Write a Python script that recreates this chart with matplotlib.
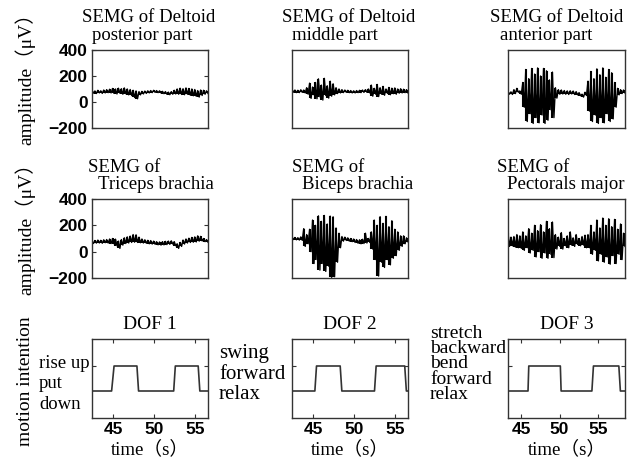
import numpy as np
import matplotlib
matplotlib.use("Agg")
import matplotlib.pyplot as plt

# SEMG traces: per-bin upper / lower extent of the signal (uV), 40 bins across the window
post_top = [88, 85, 90, 86, 92, 95, 98, 104, 100, 106, 102, 108, 100, 96, 90, 85, 80, 82, 84, 86,
            88, 90, 88, 86, 82, 80, 76, 80, 90, 100, 106, 102, 108, 104, 100, 96, 88, 92, 90, 86]
post_bot = [68, 65, 70, 66, 70, 72, 70, 66, 62, 68, 60, 64, 55, 50, 35, 25, 55, 62, 66, 70,
            72, 74, 72, 70, 64, 60, 56, 60, 62, 60, 58, 56, 60, 52, 48, 44, 38, 50, 60, 66]

mid_top = [95, 92, 90, 94, 92, 110, 145, 115, 150, 178, 130, 182, 125, 160, 140, 110, 100, 95, 92, 90,
           88, 86, 88, 90, 92, 95, 100, 130, 105, 135, 110, 120, 100, 112, 106, 108, 100, 102, 98, 95]
mid_bot = [75, 72, 72, 74, 70, 60, 28, 55, 25, 40, 15, 50, 30, 45, 55, 65, 70, 72, 74, 72,
           70, 70, 72, 72, 74, 75, 70, 45, 60, 42, 60, 52, 66, 56, 64, 60, 68, 70, 72, 70]

ant_top = [80, 78, 95, 105, 85, 150, 250, 180, 258, 215, 262, 200, 258, 240, 170, 230, 110, 95, 92, 88,
           85, 86, 84, 80, 72, 60, 75, 160, 235, 180, 255, 210, 262, 190, 250, 225, 150, 105, 95, 92]
ant_bot = [60, 58, 65, 75, 60, -40, -150, -90, -165, -120, -160, -100, -165, -140, -60, -120, 30, 60, 62, 60,
           58, 62, 58, 55, 48, 38, 50, -70, -150, -100, -165, -120, -160, -90, -150, -130, -40, 55, 65, 70]

tri_top = [82, 85, 88, 86, 90, 92, 96, 100, 95, 80, 92, 105, 112, 118, 130, 128, 110, 96, 90, 86,
           84, 80, 76, 74, 76, 78, 80, 82, 76, 60, 70, 88, 96, 102, 108, 112, 120, 116, 100, 92]
tri_bot = [62, 65, 66, 64, 68, 66, 62, 60, 45, 25, 50, 62, 66, 70, 72, 70, 68, 66, 64, 60,
           58, 56, 52, 50, 52, 54, 56, 58, 45, 25, 40, 58, 66, 70, 72, 74, 80, 82, 76, 72]

bic_top = [110, 108, 106, 112, 175, 130, 170, 240, 200, 272, 230, 275, 210, 270, 265, 180, 140, 115, 110, 105,
           100, 96, 92, 90, 94, 140, 100, 150, 240, 200, 266, 215, 268, 190, 235, 170, 150, 120, 120, 105]
bic_bot = [92, 90, 88, 86, 40, 60, 0, -90, -60, -140, -90, -150, -110, -195, -190, -80, 30, 80, 85, 80,
           76, 70, 64, 60, 62, 66, 70, 20, -60, -185, -80, -120, -60, -100, -50, -30, 10, 40, 60, 75]

pec_top = [140, 110, 115, 130, 120, 150, 120, 175, 140, 200, 160, 205, 150, 230, 175, 225, 130, 110, 145, 100,
           120, 150, 105, 130, 100, 115, 125, 130, 200, 150, 240, 180, 255, 200, 250, 190, 245, 170, 210, 140]
pec_bot = [40, 45, 35, 30, 25, 10, 30, -10, 10, -40, 0, -50, -10, -50, -20, -45, 20, 40, 20, 45,
           30, 50, 40, 55, 45, 50, 30, 30, -20, 10, -70, -20, -80, -40, -95, -30, -90, -20, -60, 40]

semg_titles = [("SEMG of Deltoid", "posterior part"), ("SEMG of Deltoid", "middle part"),
               ("SEMG of Deltoid", "anterior part"), ("SEMG of", "Triceps brachia"),
               ("SEMG of", "Biceps brachia"), ("SEMG of", "Pectorals major")]

# motion intention (0 = rest level, 1 = active level), switching times in s
dof1_t = [42.4, 44.8, 45.1, 47.9, 48.1, 52.4, 52.6, 55.4, 55.6, 56.6]
dof2_t = [42.4, 45.2, 45.4, 48.3, 48.5, 52.5, 52.7, 56.2, 56.4, 56.6]
dof3_t = [43.3, 45.9, 46.0, 50.1, 50.2, 54.2, 54.4, 57.7, 57.9, 58.5]
dof_y = [0, 0, 1, 1, 0, 0, 1, 1, 0, 0]
xticks = [45, 50, 55]

W, H = 638, 461
SERIF = "Liberation Serif"
MIX = ["Liberation Serif", "Noto Sans CJK SC"]


def box(x0, y0, x1, y1):
    return [x0 / W, 1 - y1 / H, (x1 - x0) / W, (y1 - y0) / H]


def style_axes(ax):
    for s in ax.spines.values():
        s.set_color("#333333")
        s.set_linewidth(1.0)
    ax.tick_params(direction="in", length=3, color="#333333", width=0.8,
                   labelsize=12.5, pad=3)
    for lab in ax.get_xticklabels() + ax.get_yticklabels():
        lab.set_fontfamily("Liberation Sans")
        lab.set_fontweight("bold")


fig = plt.figure(figsize=(W / 100, H / 100), dpi=100)

cols = [(92, 208), (292, 408), (508, 625)]
rows = [(50, 128), (199, 278)]
traces = [(post_top, post_bot), (mid_top, mid_bot), (ant_top, ant_bot),
          (tri_top, tri_bot), (bic_top, bic_bot), (pec_top, pec_bot)]
title_dx = [(-10, 0), (-10, 0), (-18, -8), (-4, 6), (0, 10), (-11, -1)]

for k, (top, bot) in enumerate(traces):
    r, c = divmod(k, 3)
    x0, x1 = cols[c]
    y0, y1 = rows[r]
    ax = fig.add_axes(box(x0, y0, x1, y1))
    # each bin drawn as a vertical stroke, joined by the zigzagging trace
    vals = np.ravel(np.column_stack([top, bot]))
    t = np.linspace(42.4, 56.6, len(vals))
    ax.vlines(t[::2], bot, top, color="black", lw=1.5)
    ax.plot(t, vals, color="black", lw=1.0)
    ax.set_xlim(42.4, 56.6)
    ax.set_ylim(-200, 400)
    ax.set_xticks([])
    if c == 0:
        ax.set_yticks([-200, 0, 200, 400])
        ax.tick_params(right=True)
    else:
        ax.set_yticks([])
    style_axes(ax)
    l1, l2 = semg_titles[k]
    d1, d2 = title_dx[k]
    fig.text((x0 + d1) / W, 1 - (y0 - 32) / H, l1, fontsize=13.5, family=SERIF, va="center")
    fig.text((x0 + d2) / W, 1 - (y0 - 15) / H, l2, fontsize=13.5, family=SERIF, va="center")

for ycen in [74, 224]:
    fig.text(25 / W, 1 - ycen / H, "amplitude（μV）", rotation=90, fontsize=14,
             family=MIX, ha="center", va="center")

# bottom row: motion intention
dof_t = [dof1_t, dof2_t, dof3_t]
for c in range(3):
    x0, x1 = cols[c]
    ax = fig.add_axes(box(x0, 339, x1, 418))
    t = dof_t[c]
    ax.plot(t, dof_y, color="#333333", lw=1.2)
    ax.set_xlim(t[0], t[-1])
    ax.set_ylim(-1.08, 2.08)
    ax.set_xticks(xticks)
    ax.set_yticks([1])
    ax.set_yticklabels([])
    ax.tick_params(top=True, right=True)
    style_axes(ax)
    ax.set_title("DOF %d" % (c + 1), fontsize=14, family=SERIF, pad=7)
    fig.text((x0 + x1) / 2 / W, 1 - 449 / H, "time（s）", fontsize=13.5, family=MIX,
             ha="center", va="center")

fig.text(39 / W, 1 - 384 / H, "rise up\nput\ndown", fontsize=13.5, family=SERIF,
         va="center", linespacing=1.25)
fig.text(219 / W, 1 - 374 / H, "swing\nforward\nrelax", fontsize=15, family=SERIF,
         va="center", linespacing=1.08)
fig.text(430 / W, 1 - 364 / H, "stretch\nbackward\nbend\nforward\nrelax", fontsize=14,
         family=SERIF, va="center", linespacing=0.88)
fig.text(25 / W, 1 - 381 / H, "motion intention", rotation=90, fontsize=14,
         family=SERIF, ha="center", va="center")

fig.savefig("out.png", dpi=100)
